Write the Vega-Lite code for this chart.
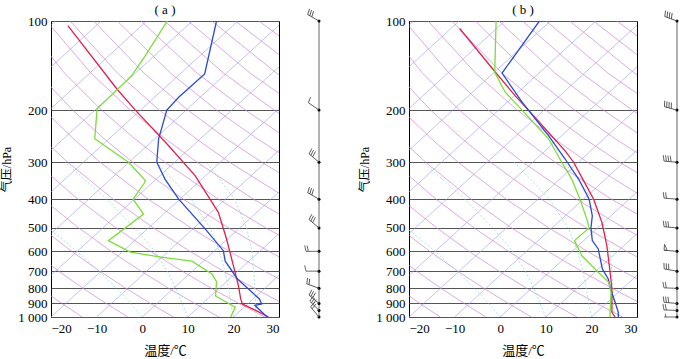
{
"$schema": "https://vega.github.io/schema/vega-lite/v6.json",
"padding": {"left": 0, "top": 3, "right": 0, "bottom": 0},
"bounds": "flush",
"spacing": 40,
"config": {"view": {"stroke": "#000", "strokeWidth": 1}, "background": "#fff"},
"datasets": {
"iso": [
{"t":-90,"p":1000,"x":-90},{"t":-90,"p":100,"x":-19},
{"t":-80,"p":1000,"x":-80},{"t":-80,"p":100,"x":-9},
{"t":-70,"p":1000,"x":-70},{"t":-70,"p":100,"x":1},
{"t":-60,"p":1000,"x":-60},{"t":-60,"p":100,"x":11},
{"t":-50,"p":1000,"x":-50},{"t":-50,"p":100,"x":21},
{"t":-40,"p":1000,"x":-40},{"t":-40,"p":100,"x":31},
{"t":-30,"p":1000,"x":-30},{"t":-30,"p":100,"x":41},
{"t":-20,"p":1000,"x":-20},{"t":-20,"p":100,"x":51},
{"t":-10,"p":1000,"x":-10},{"t":-10,"p":100,"x":61},
{"t":0,"p":1000,"x":0},{"t":0,"p":100,"x":71},
{"t":10,"p":1000,"x":10},{"t":10,"p":100,"x":81},
{"t":20,"p":1000,"x":20},{"t":20,"p":100,"x":91},
{"t":30,"p":1000,"x":30},{"t":30,"p":100,"x":101}
],
"dry": [
{"th":260,"p":1000,"x":-13.15},{"th":260,"p":900,"x":-17.62},{"th":260,"p":800,"x":-22.34},
{"th":270,"p":1000,"x":-3.15},{"th":270,"p":900,"x":-7.91},{"th":270,"p":800,"x":-12.96},{"th":270,"p":700,"x":-18.33},{"th":270,"p":600,"x":-24.1},
{"th":280,"p":1000,"x":6.85},{"th":280,"p":900,"x":1.79},{"th":280,"p":800,"x":-3.58},{"th":280,"p":700,"x":-9.3},{"th":280,"p":600,"x":-15.46},{"th":280,"p":500,"x":-22.13},
{"th":290,"p":1000,"x":16.85},{"th":290,"p":900,"x":11.49},{"th":290,"p":800,"x":5.8},{"th":290,"p":700,"x":-0.27},{"th":290,"p":600,"x":-6.82},{"th":290,"p":500,"x":-13.92},{"th":290,"p":400,"x":-21.76},
{"th":300,"p":1000,"x":26.85},{"th":300,"p":900,"x":21.19},{"th":300,"p":800,"x":15.18},{"th":300,"p":700,"x":8.76},{"th":300,"p":600,"x":1.82},{"th":300,"p":500,"x":-5.72},{"th":300,"p":400,"x":-14.06},{"th":300,"p":300,"x":-23.43},
{"th":310,"p":1000,"x":36.85},{"th":310,"p":900,"x":30.9},{"th":310,"p":800,"x":24.57},{"th":310,"p":700,"x":17.79},{"th":310,"p":600,"x":10.46},{"th":310,"p":500,"x":2.47},{"th":310,"p":400,"x":-6.37},{"th":310,"p":300,"x":-16.34},{"th":310,"p":250,"x":-21.86},
{"th":320,"p":900,"x":40.6},{"th":320,"p":800,"x":33.95},{"th":320,"p":700,"x":26.82},{"th":320,"p":600,"x":19.11},{"th":320,"p":500,"x":10.68},{"th":320,"p":400,"x":1.34},{"th":320,"p":300,"x":-9.23},{"th":320,"p":250,"x":-15.07},{"th":320,"p":200,"x":-21.56},
{"th":330,"p":800,"x":43.34},{"th":330,"p":700,"x":35.85},{"th":330,"p":600,"x":27.75},{"th":330,"p":500,"x":18.89},{"th":330,"p":400,"x":9.04},{"th":330,"p":300,"x":-2.13},{"th":330,"p":250,"x":-8.34},{"th":330,"p":200,"x":-15.25},{"th":330,"p":150,"x":-22.85},
{"th":340,"p":700,"x":44.9},{"th":340,"p":600,"x":36.39},{"th":340,"p":500,"x":27.09},{"th":340,"p":400,"x":16.73},{"th":340,"p":300,"x":4.97},{"th":340,"p":250,"x":-1.61},{"th":340,"p":200,"x":-8.94},{"th":340,"p":150,"x":-17.04},{"th":340,"p":100,"x":-26.17},
{"th":350,"p":600,"x":45.04},{"th":350,"p":500,"x":35.29},{"th":350,"p":400,"x":24.41},{"th":350,"p":300,"x":12.01},{"th":350,"p":250,"x":5.12},{"th":350,"p":200,"x":-2.62},{"th":350,"p":150,"x":-11.23},{"th":350,"p":100,"x":-20.99},
{"th":360,"p":500,"x":43.49},{"th":360,"p":400,"x":32.1},{"th":360,"p":300,"x":19.14},{"th":360,"p":250,"x":11.84},{"th":360,"p":200,"x":3.75},{"th":360,"p":150,"x":-5.42},{"th":360,"p":100,"x":-15.81},
{"th":370,"p":400,"x":39.8},{"th":370,"p":300,"x":26.18},{"th":370,"p":250,"x":18.5},{"th":370,"p":200,"x":10.0},{"th":370,"p":150,"x":0.4},{"th":370,"p":100,"x":-10.64},
{"th":380,"p":400,"x":47.49},{"th":380,"p":300,"x":33.27},{"th":380,"p":250,"x":25.23},{"th":380,"p":200,"x":16.31},{"th":380,"p":150,"x":6.21},{"th":380,"p":100,"x":-5.46},
{"th":390,"p":300,"x":40.36},{"th":390,"p":250,"x":31.96},{"th":390,"p":200,"x":22.62},{"th":390,"p":150,"x":12.03},{"th":390,"p":100,"x":-0.29},
{"th":400,"p":250,"x":38.68},{"th":400,"p":200,"x":28.93},{"th":400,"p":150,"x":17.84},{"th":400,"p":100,"x":4.89},
{"th":410,"p":250,"x":45.41},{"th":410,"p":200,"x":35.24},{"th":410,"p":150,"x":23.65},{"th":410,"p":100,"x":10.07},
{"th":420,"p":200,"x":41.55},{"th":420,"p":150,"x":29.46},{"th":420,"p":100,"x":15.24},
{"th":430,"p":200,"x":47.87},{"th":430,"p":150,"x":35.27},{"th":430,"p":100,"x":20.42},
{"th":440,"p":150,"x":41.09},{"th":440,"p":100,"x":25.59}
],
"moist": [
{"tw":0,"p":1000,"x":0},{"tw":0,"p":900,"x":-2.55},{"tw":0,"p":800,"x":-5.6},{"tw":0,"p":700,"x":-9.5},{"tw":0,"p":600,"x":-14.25},{"tw":0,"p":500,"x":-20.6},
{"tw":10,"p":1000,"x":10},{"tw":10,"p":900,"x":8.75},{"tw":10,"p":800,"x":7.4},{"tw":10,"p":700,"x":5.5},{"tw":10,"p":600,"x":2.75},{"tw":10,"p":500,"x":-1.6},{"tw":10,"p":400,"x":-7.75},{"tw":10,"p":300,"x":-16.9},
{"tw":20,"p":1000,"x":20},{"tw":20,"p":900,"x":19.45},{"tw":20,"p":800,"x":18.9},{"tw":20,"p":700,"x":18.1},{"tw":20,"p":600,"x":16.95},{"tw":20,"p":500,"x":14.9},{"tw":20,"p":400,"x":10.75},{"tw":20,"p":300,"x":3.1},
{"tw":25,"p":1000,"x":25},{"tw":25,"p":900,"x":24.85},{"tw":25,"p":800,"x":24.7},{"tw":25,"p":700,"x":24.5},{"tw":25,"p":600,"x":24.05},{"tw":25,"p":500,"x":22.9},{"tw":25,"p":400,"x":20.25},{"tw":25,"p":300,"x":14.1}
],
"profA": [
{"var":"状态曲线","p":103.7,"x":-16.3},{"var":"状态曲线","p":170,"x":-5.5},{"var":"状态曲线","p":200,"x":-1.5},{"var":"状态曲线","p":264,"x":5.8},{"var":"状态曲线","p":333,"x":11.6},{"var":"状态曲线","p":443,"x":16.7},{"var":"状态曲线","p":545,"x":18.5},{"var":"状态曲线","p":671,"x":20.0},{"var":"状态曲线","p":784,"x":21.1},{"var":"状态曲线","p":869,"x":21.6},{"var":"状态曲线","p":905,"x":22.0},{"var":"状态曲线","p":950,"x":24.9},{"var":"状态曲线","p":1000,"x":27.7},
{"var":"温度","p":100,"x":16.3},{"var":"温度","p":151,"x":13.7},{"var":"温度","p":181,"x":8.0},{"var":"温度","p":200,"x":5.4},{"var":"温度","p":250,"x":3.6},{"var":"温度","p":300,"x":3.2},{"var":"温度","p":342,"x":5.0},{"var":"温度","p":400,"x":8.0},{"var":"温度","p":504,"x":13.8},{"var":"温度","p":597,"x":17.8},{"var":"温度","p":648,"x":18.2},{"var":"温度","p":744,"x":20.9},{"var":"温度","p":869,"x":25.7},{"var":"温度","p":904,"x":26.2},{"var":"温度","p":913,"x":24.7},{"var":"温度","p":1000,"x":27.4},
{"var":"露点","p":100,"x":5.5},{"var":"露点","p":131,"x":0.7},{"var":"露点","p":153,"x":-2.3},{"var":"露点","p":198,"x":-9.9},{"var":"露点","p":250,"x":-10.4},{"var":"露点","p":300,"x":-3.0},{"var":"露点","p":346,"x":0.7},{"var":"露点","p":352,"x":0.5},{"var":"露点","p":400,"x":-2.0},{"var":"露点","p":449,"x":0.3},{"var":"露点","p":552,"x":-7.4},{"var":"露点","p":604,"x":-2.6},{"var":"露点","p":629,"x":4.5},{"var":"露点","p":648,"x":10.9},{"var":"露点","p":716,"x":15.3},{"var":"露点","p":760,"x":16.3},{"var":"露点","p":849,"x":16.1},{"var":"露点","p":916,"x":19.8},{"var":"露点","p":927,"x":20.4},{"var":"露点","p":1000,"x":19.4}
],
"profB": [
{"var":"状态曲线","p":106,"x":-8.9},{"var":"状态曲线","p":149,"x":-1.05},{"var":"状态曲线","p":179,"x":3.3},{"var":"状态曲线","p":200,"x":6.2},{"var":"状态曲线","p":238,"x":10.6},{"var":"状态曲线","p":274,"x":14.2},{"var":"状态曲线","p":300,"x":16.1},{"var":"状态曲线","p":342,"x":18.1},{"var":"状态曲线","p":400,"x":20.5},{"var":"状态曲线","p":479,"x":22.3},{"var":"状态曲线","p":575,"x":23.4},{"var":"状态曲线","p":706,"x":24.1},{"var":"状态曲线","p":804,"x":24.5},{"var":"状态曲线","p":964,"x":24.5},{"var":"状态曲线","p":1000,"x":25.2},
{"var":"温度","p":100,"x":8.6},{"var":"温度","p":150,"x":0.4},{"var":"温度","p":188,"x":4.8},{"var":"温度","p":244,"x":10.6},{"var":"温度","p":292,"x":14.2},{"var":"温度","p":342,"x":17.2},{"var":"温度","p":400,"x":19.5},{"var":"温度","p":455,"x":20.2},{"var":"温度","p":500,"x":19.9},{"var":"温度","p":552,"x":20.2},{"var":"温度","p":589,"x":21.5},{"var":"温度","p":688,"x":22.4},{"var":"温度","p":744,"x":23.7},{"var":"温度","p":804,"x":24.2},{"var":"温度","p":892,"x":25.2},{"var":"温度","p":964,"x":25.9},{"var":"温度","p":1000,"x":25.9},
{"var":"露点","p":100,"x":-0.9},{"var":"露点","p":149,"x":-1.2},{"var":"露点","p":174,"x":1.1},{"var":"露点","p":200,"x":4.8},{"var":"露点","p":250,"x":10.6},{"var":"露点","p":300,"x":13.5},{"var":"露点","p":342,"x":15.7},{"var":"露点","p":400,"x":17.5},{"var":"露点","p":467,"x":19.0},{"var":"露点","p":500,"x":19.5},{"var":"露点","p":552,"x":16.3},{"var":"露点","p":621,"x":17.9},{"var":"露点","p":706,"x":21.5},{"var":"露点","p":764,"x":23.8},{"var":"露点","p":825,"x":24.3},{"var":"露点","p":964,"x":24.1},{"var":"露点","p":1000,"x":24.1}
],
"windA": [
{"p":100,"dir":300,"spd":30},{"p":200,"dir":305,"spd":10},{"p":300,"dir":310,"spd":30},{"p":400,"dir":300,"spd":30},{"p":500,"dir":310,"spd":30},{"p":600,"dir":270,"spd":20},{"p":700,"dir":270,"spd":10},{"p":800,"dir":290,"spd":20},{"p":900,"dir":310,"spd":30},{"p":950,"dir":315,"spd":30},{"p":1000,"dir":320,"spd":20}
],
"windB": [
{"p":100,"dir":290,"spd":40},{"p":200,"dir":285,"spd":40},{"p":300,"dir":275,"spd":40},{"p":400,"dir":275,"spd":20},{"p":500,"dir":275,"spd":30},{"p":600,"dir":275,"spd":50},{"p":700,"dir":280,"spd":30},{"p":800,"dir":272,"spd":20},{"p":900,"dir":275,"spd":30},{"p":950,"dir":272,"spd":20},{"p":1000,"dir":270,"spd":5}
]
},
"hconcat": [
{
"width": 228, "height": 296,
"title": {"text": "( a )", "font": "Liberation Serif", "fontSize": 13, "fontWeight": "normal", "color": "#000", "offset": -2},
"encoding": {
"x": {"field": "x", "type": "quantitative", "scale": {"domain": [-20, 30], "nice": false, "zero": false}, "axis": {"values": [-20,-10,0,10,20,30], "title": "温度/℃", "grid": false, "ticks": false, "domain": false, "labelFont": "Liberation Serif", "labelFontSize": 13, "labelColor": "#000", "labelPadding": 5, "titleFont": "Liberation Serif, Noto Sans CJK SC", "titleFontSize": 13, "titleFontWeight": "normal", "titleColor": "#000", "titlePadding": 9}},
"y": {"field": "p", "type": "quantitative", "scale": {"type": "log", "domain": [100, 1000], "reverse": true, "nice": false}, "axis": {"values": [100,200,300,400,500,600,700,800,900,1000], "labelExpr": "datum.value == 1000 ? '1 000' : datum.label", "title": "气压/hPa", "grid": true, "gridColor": "#555", "gridWidth": 1.2, "ticks": false, "domain": false, "labelFont": "Liberation Serif", "labelFontSize": 13, "labelColor": "#000", "labelPadding": 4, "titleFont": "Liberation Serif, Noto Sans CJK SC", "titleFontSize": 12, "titleFontWeight": "normal", "titleColor": "#000", "titlePadding": 4}},
"order": {"field": "p", "type": "quantitative", "sort": "descending"}
},
"layer": [
{"data": {"name": "iso"}, "mark": {"type": "line", "clip": true, "color": "#9a9aea", "strokeWidth": 0.6}, "encoding": {"detail": {"field": "t", "type": "nominal"}}},
{"data": {"name": "dry"}, "mark": {"type": "line", "clip": true, "color": "#cc85d6", "strokeWidth": 0.7}, "encoding": {"detail": {"field": "th", "type": "nominal"}}},
{"data": {"name": "moist"}, "mark": {"type": "line", "clip": true, "color": "#8fded4", "strokeWidth": 0.8, "strokeDash": [2, 2]}, "encoding": {"detail": {"field": "tw", "type": "nominal"}}},
{"data": {"name": "profA"}, "mark": {"type": "line", "clip": true, "strokeWidth": 1.3}, "encoding": {"color": {"field": "var", "type": "nominal", "scale": {"domain": ["状态曲线","温度","露点"], "range": ["#e2204c","#2a4ad6","#7ddc3a"]}, "legend": null}}}
]
},
{
"width": 50, "height": 296,
"view": {"stroke": null},
"data": {"name": "windA"},
"encoding": {
"x": {"datum": 0, "type": "quantitative", "scale": {"domain": [0, 1]}, "axis": null},
"y": {"field": "p", "type": "quantitative", "scale": {"type": "log", "domain": [100, 1000], "reverse": true, "nice": false}, "axis": null}
},
"layer": [
{"mark": {"type": "rule", "color": "#666", "strokeWidth": 1}, "encoding": {"y": {"aggregate": "min", "field": "p", "type": "quantitative"}, "y2": {"aggregate": "max", "field": "p"}}},
{"mark": {"type": "point", "filled": true, "color": "#000", "size": 9, "opacity": 1}},
{"mark": {"type": "point", "filled": false, "stroke": "#444", "strokeWidth": 0.8, "size": 676, "opacity": 1}, "encoding": {
"shape": {"field": "spd", "type": "nominal", "scale": {"domain": [5,10,20,30,40,50], "range": ["M0,0L-1,0M-0.85,0L-0.9,-0.25", "M0,0L-1,0M-1,0L-1.1,-0.45", "M0,0L-1,0M-1,0L-1.1,-0.45M-0.82,0L-0.92,-0.45", "M0,0L-1,0M-1,0L-1.1,-0.45M-0.82,0L-0.92,-0.45M-0.64,0L-0.74,-0.45", "M0,0L-1,0M-1,0L-1.1,-0.45M-0.82,0L-0.92,-0.45M-0.64,0L-0.74,-0.45M-0.46,0L-0.56,-0.45", "M0,0L-1,0M-1,0L-1,-0.45L-0.75,0Z"]}, "legend": null},
"angle": {"field": "dir", "type": "quantitative", "scale": {"domain": [270, 360], "range": [0, 90]}}
}}
]
},
{
"width": 228, "height": 296,
"title": {"text": "( b )", "font": "Liberation Serif", "fontSize": 13, "fontWeight": "normal", "color": "#000", "offset": -2},
"encoding": {
"x": {"field": "x", "type": "quantitative", "scale": {"domain": [-20, 30], "nice": false, "zero": false}, "axis": {"values": [-20,-10,0,10,20,30], "title": "温度/℃", "grid": false, "ticks": false, "domain": false, "labelFont": "Liberation Serif", "labelFontSize": 13, "labelColor": "#000", "labelPadding": 5, "titleFont": "Liberation Serif, Noto Sans CJK SC", "titleFontSize": 13, "titleFontWeight": "normal", "titleColor": "#000", "titlePadding": 9}},
"y": {"field": "p", "type": "quantitative", "scale": {"type": "log", "domain": [100, 1000], "reverse": true, "nice": false}, "axis": {"values": [100,200,300,400,500,600,700,800,900,1000], "labelExpr": "datum.value == 1000 ? '1 000' : datum.label", "title": "气压/hPa", "grid": true, "gridColor": "#555", "gridWidth": 1.2, "ticks": false, "domain": false, "labelFont": "Liberation Serif", "labelFontSize": 13, "labelColor": "#000", "labelPadding": 4, "titleFont": "Liberation Serif, Noto Sans CJK SC", "titleFontSize": 12, "titleFontWeight": "normal", "titleColor": "#000", "titlePadding": 4}},
"order": {"field": "p", "type": "quantitative", "sort": "descending"}
},
"layer": [
{"data": {"name": "iso"}, "mark": {"type": "line", "clip": true, "color": "#9a9aea", "strokeWidth": 0.6}, "encoding": {"detail": {"field": "t", "type": "nominal"}}},
{"data": {"name": "dry"}, "mark": {"type": "line", "clip": true, "color": "#cc85d6", "strokeWidth": 0.7}, "encoding": {"detail": {"field": "th", "type": "nominal"}}},
{"data": {"name": "moist"}, "mark": {"type": "line", "clip": true, "color": "#8fded4", "strokeWidth": 0.8, "strokeDash": [2, 2]}, "encoding": {"detail": {"field": "tw", "type": "nominal"}}},
{"data": {"name": "profB"}, "mark": {"type": "line", "clip": true, "strokeWidth": 1.3}, "encoding": {"color": {"field": "var", "type": "nominal", "scale": {"domain": ["状态曲线","温度","露点"], "range": ["#e2204c","#2a4ad6","#7ddc3a"]}, "legend": null}}}
]
},
{
"width": 25, "height": 296,
"view": {"stroke": null},
"data": {"name": "windB"},
"encoding": {
"x": {"datum": 0, "type": "quantitative", "scale": {"domain": [0, 1]}, "axis": null},
"y": {"field": "p", "type": "quantitative", "scale": {"type": "log", "domain": [100, 1000], "reverse": true, "nice": false}, "axis": null}
},
"layer": [
{"mark": {"type": "rule", "color": "#aaa", "strokeWidth": 1.8}, "encoding": {"y": {"aggregate": "min", "field": "p", "type": "quantitative"}, "y2": {"aggregate": "max", "field": "p"}}},
{"mark": {"type": "point", "filled": true, "color": "#000", "size": 9, "opacity": 1}},
{"mark": {"type": "point", "filled": false, "stroke": "#444", "strokeWidth": 0.8, "size": 676, "opacity": 1}, "encoding": {
"shape": {"field": "spd", "type": "nominal", "scale": {"domain": [5,10,20,30,40,50], "range": ["M0,0L-1,0M-0.85,0L-0.9,-0.25", "M0,0L-1,0M-1,0L-1.1,-0.45", "M0,0L-1,0M-1,0L-1.1,-0.45M-0.82,0L-0.92,-0.45", "M0,0L-1,0M-1,0L-1.1,-0.45M-0.82,0L-0.92,-0.45M-0.64,0L-0.74,-0.45", "M0,0L-1,0M-1,0L-1.1,-0.45M-0.82,0L-0.92,-0.45M-0.64,0L-0.74,-0.45M-0.46,0L-0.56,-0.45", "M0,0L-1,0M-1,0L-1,-0.45L-0.75,0Z"]}, "legend": null},
"angle": {"field": "dir", "type": "quantitative", "scale": {"domain": [270, 360], "range": [0, 90]}}
}}
]
}
]
}
